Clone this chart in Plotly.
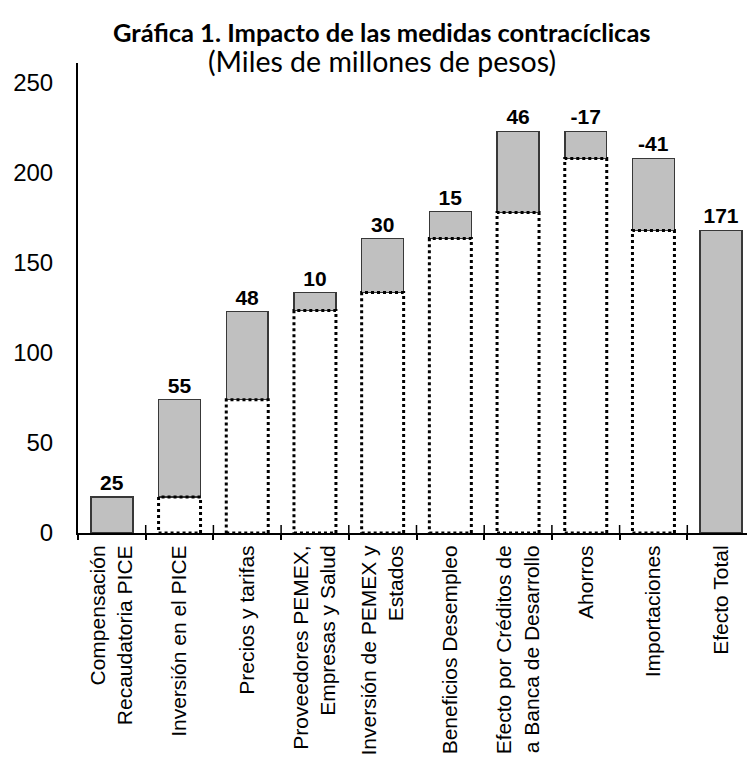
import plotly.graph_objects as go

# Categories (x-axis tick labels)
categories = [
    "Compensación<br>Recaudatoria PICE",
    "Inversión en el PICE",
    "Precios y tarifas",
    "Proveedores PEMEX,<br>Empresas y Salud",
    "Inversión de PEMEX y<br>Estados",
    "Beneficios Desempleo",
    "Efecto por Créditos de<br>a Banca de Desarrollo",
    "Ahorros",
    "Importaciones",
    "Efecto Total",
]

# invisible (dotted) base of each step and the visible grey step on top
base = [0, 20, 74, 123.5, 133.5, 163.5, 178, 208, 168, 0]
step = [20, 54, 49, 10, 30, 15, 45, 15, 40, 168]
labels = ["25", "55", "48", "10", "30", "15", "46", "-17", "-41", "171"]

BAR_WIDTH = 0.62

fig = go.Figure()
fig.add_trace(
    go.Bar(
        x=categories, y=base, width=BAR_WIDTH,
        marker=dict(color="white", line=dict(width=0)),
        hoverinfo="skip", showlegend=False,
    )
)
fig.add_trace(
    go.Bar(
        x=categories, y=step, width=BAR_WIDTH,
        marker=dict(color="#C0C0C0", line=dict(color="#383838", width=1.5)),
        text=labels, textposition="outside", cliponaxis=False, constraintext="none",
        textfont=dict(family="Liberation Sans", size=21, color="black", weight="bold"),
        showlegend=False,
    )
)

# dotted outline of the base bars
for i, b in enumerate(base):
    if b > 0:
        fig.add_shape(
            type="rect", xref="x", yref="y",
            x0=i - BAR_WIDTH / 2, x1=i + BAR_WIDTH / 2, y0=0, y1=b,
            line=dict(color="black", width=3, dash="dot"),
            layer="above",
        )

# upper half of the category separator ticks (axis ticks only go outside)
for i in range(len(categories) - 1):
    fig.add_shape(
        type="line", xref="x", yref="y", ysizemode="pixel", yanchor=0,
        x0=i + 0.5, x1=i + 0.5, y0=0, y1=8,
        line=dict(color="black", width=1.5),
        layer="above",
    )

# page body adds 8px of margin, so the figure is a bit smaller than the window
fig.update_layout(
    barmode="stack",
    width=747, height=755,
    margin=dict(l=70, r=0, t=55, b=230),
    paper_bgcolor="white", plot_bgcolor="white",
    font=dict(family="Liberation Sans", color="black"),
    annotations=[
        dict(
            text="<b>Gráfica 1. Impacto de las medidas contracíclicas</b>",
            xref="paper", yref="paper", x=0.449, y=1.066, yanchor="middle",
            showarrow=False, font=dict(family="Lato", size=25.5, color="black"),
        ),
        dict(
            text="(Miles de millones de pesos)",
            xref="paper", yref="paper", x=0.449, y=1.004, yanchor="middle",
            showarrow=False, font=dict(family="Lato", size=28.5, color="black"),
        ),
    ],
)
fig.update_xaxes(
    type="category", tickangle=-90, tickson="boundaries",
    ticks="outside", ticklen=5, tickwidth=1.5, tickcolor="black",
    showline=True, linecolor="black", linewidth=2,
    tickfont=dict(size=21), ticklabelstandoff=2, showgrid=False,
)
fig.update_yaxes(
    range=[0, 261], tickvals=[0, 50, 100, 150, 200, 250],
    showline=True, linecolor="black", linewidth=2,
    ticks="", showgrid=False, zeroline=False,
    tickfont=dict(size=24), ticklabelstandoff=18,
)

fig.write_html("out.html")
